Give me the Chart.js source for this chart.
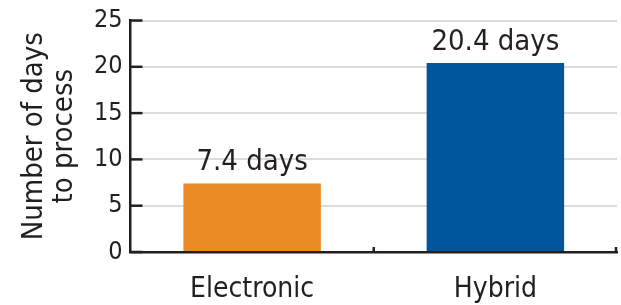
<!DOCTYPE html>
<html lang="en">
<head>
    <meta charset="UTF-8">
    <title>Number of days to process</title>
    <script src="https://cdn.jsdelivr.net/npm/chart.js"></script>
    <style>
        body { margin: 0; background: #fff; }
        #wrap { width: 621px; height: 305px; }
    </style>
</head>
<body>
    <div id="wrap"><canvas id="daysChart"></canvas></div>

    <script>
    // data
    const categories = ['Electronic', 'Hybrid'];
    const days = [7.4, 20.4];
    const barLabels = ['7.4 days', '20.4 days'];
    const yTicks = [0, 5, 10, 15, 20, 25];

    const ink = '#231F20';
    const fontFamily = "'Liberation Sans Narrow', 'DejaVu Sans Condensed', 'Arial Narrow', sans-serif";

    // labels over the bars + small inward ticks on both axes
    const decorations = {
        id: 'decorations',
        afterDatasetsDraw(chart) {
            const ctx = chart.ctx;
            const area = chart.chartArea;
            const x = chart.scales.x;
            const y = chart.scales.y;
            ctx.save();
            ctx.strokeStyle = ink;
            ctx.lineWidth = 2.5;
            // y ticks pointing into the plot
            y.ticks.forEach(t => {
                const py = y.getPixelForValue(t.value);
                ctx.beginPath();
                ctx.moveTo(area.left, py);
                ctx.lineTo(area.left + 12, py);
                ctx.stroke();
            });
            // x ticks at category boundaries
            const mid = (x.getPixelForValue(0) + x.getPixelForValue(1)) / 2;
            [mid, area.right - 1].forEach(px => {
                ctx.beginPath();
                ctx.moveTo(px, area.bottom);
                ctx.lineTo(px, area.bottom - 5);
                ctx.stroke();
            });
            // value labels
            const meta = chart.getDatasetMeta(0);
            ctx.fillStyle = ink;
            ctx.font = '29px ' + fontFamily;
            ctx.textAlign = 'center';
            ctx.textBaseline = 'alphabetic';
            meta.data.forEach((bar, i) => {
                ctx.fillText(barLabels[i], bar.x, bar.y - 13);
            });
            ctx.restore();
        }
    };

    const ctx = document.getElementById('daysChart').getContext('2d');
    const chart = new Chart(ctx, {
        type: 'bar',
        data: {
            labels: categories,
            datasets: [{
                data: days,
                backgroundColor: ['#EA8A24', '#00569A'],
                categoryPercentage: 1,
                barPercentage: 0.565
            }]
        },
        options: {
            responsive: true,
            maintainAspectRatio: false,
            animation: false,
            layout: { padding: { top: 9, right: 4, bottom: -15, left: 19 } },
            plugins: { legend: { display: false }, tooltip: { enabled: false } },
            scales: {
                x: {
                    grid: { display: false },
                    border: { color: ink, width: 2.5 },
                    ticks: { color: ink, font: { family: fontFamily, size: 28, lineHeight: 1 }, padding: 16 }
                },
                y: {
                    min: 0,
                    max: 25,
                    afterBuildTicks: axis => { axis.ticks = yTicks.map(v => ({ value: v })); },
                    grid: { color: '#DCDCDC', lineWidth: 2, drawTicks: false },
                    border: { color: ink, width: 2.5 },
                    ticks: { color: ink, font: { family: fontFamily, size: 25, lineHeight: 1 }, padding: 8 },
                    title: {
                        display: true,
                        text: ['Number of days', 'to process'],
                        color: ink,
                        font: { family: fontFamily, size: 29, lineHeight: 1.05 },
                        padding: { top: 0, bottom: 6 }
                    }
                }
            }
        },
        plugins: [decorations]
    });
    </script>
</body>
</html>
